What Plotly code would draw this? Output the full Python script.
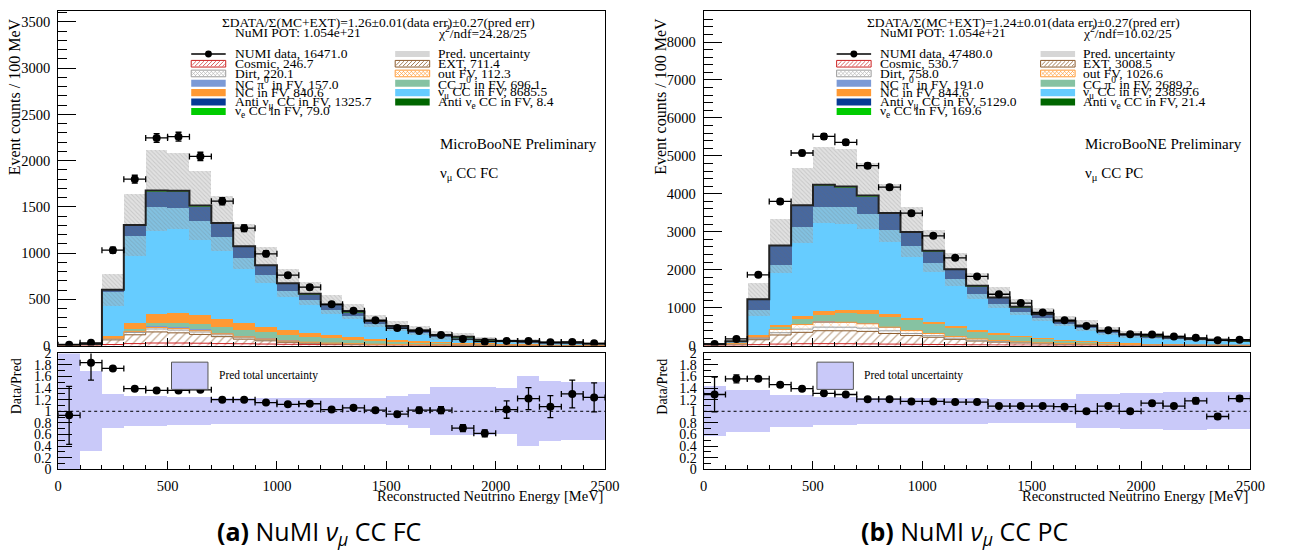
import numpy as np
import plotly.graph_objects as go

W, H = 1298, 556

# ---------------- binning (MeV) ----------------
edges = np.arange(0, 2501, 100)
centers = (edges[:-1] + edges[1:]) / 2
widths = np.diff(edges)

# ---------------- component definitions ----------------
comp_keys = ["cosmic", "ext", "dirt", "outfv", "ncpi0", "ccpi0", "nc",
             "numu", "antinumu", "nue", "antinue"]
comp_labels = ["Cosmic", "EXT", "Dirt", "out FV", "NC π<sup>0</sup> in FV",
               "CC π<sup>0</sup> in FV", "NC in FV", "ν<sub>μ</sub> CC in FV",
               "Anti ν<sub>μ</sub> CC in FV", "ν<sub>e</sub> CC in FV",
               "Anti ν<sub>e</sub> CC in FV"]

# ---------------- (a) nu_mu CC FC ----------------
fc_cosmic = [2, 3, 12, 22, 28, 28, 26, 22, 20, 17, 14, 11, 9, 7, 5, 4, 3, 3, 2, 2, 1, 1, 1, 1, 1]
fc_ext = [3, 6, 50, 95, 120, 110, 95, 75, 50, 35, 22, 15, 10, 8, 6, 5, 4, 3, 3, 2, 2, 1, 1, 1, 1]
fc_dirt = [1, 2, 12, 25, 32, 30, 26, 20, 16, 12, 9, 7, 5, 4, 3, 3, 2, 2, 1, 1, 1, 1, 1, 0, 0]
fc_outfv = [1, 1, 6, 12, 16, 16, 14, 11, 9, 7, 5, 4, 3, 2, 1, 1, 1, 1, 0, 0, 0, 0, 0, 0, 0]
fc_ncpi0 = [0, 0, 4, 10, 15, 16, 16, 15, 13, 11, 10, 8, 7, 6, 5, 4, 3, 3, 2, 2, 2, 1, 1, 1, 1]
fc_ccpi0 = [0, 1, 5, 18, 35, 45, 55, 62, 65, 63, 58, 52, 45, 38, 32, 26, 22, 18, 15, 12, 10, 8, 6, 5, 4]
fc_nc = [0, 1, 20, 60, 100, 105, 95, 85, 70, 58, 48, 40, 32, 26, 20, 16, 13, 10, 8, 6, 5, 4, 3, 3, 2]
fc_numu = [2, 4, 479, 950, 1152, 1139, 1027, 889, 705, 561, 422, 354, 280, 235, 163, 129, 99, 60, 54, 30, 22, 22, 16, 18, 10]
fc_antinumu = [0, 0, 15, 110, 175, 180, 155, 140, 120, 100, 80, 65, 50, 38, 28, 20, 15, 10, 8, 6, 4, 3, 2, 2, 1]
fc_nue = [0, 0, 1, 3, 5, 6, 6, 6, 6, 5, 5, 5, 4, 4, 4, 3, 3, 3, 2, 2, 2, 2, 2, 1, 1]
fc_antinue = [0, 0, 0, 0.2, 0.4, 0.5, 0.6, 0.6, 0.6, 0.6, 0.5, 0.5, 0.5, 0.5, 0.4, 0.4, 0.4, 0.3, 0.3, 0.3, 0.3, 0.2, 0.2, 0.1, 0.1]
fc_data = [8, 30, 1032, 1800, 2246, 2260, 2046, 1562, 1270, 993, 762, 632, 446, 376, 274, 190, 158, 116, 71, 43, 50, 50, 35, 40, 25]
fc_rel_unc = [1.2, 0.69, 0.29, 0.26, 0.26, 0.245, 0.245, 0.225, 0.225, 0.225, 0.225, 0.225, 0.225, 0.225, 0.23, 0.25, 0.3, 0.41, 0.41, 0.41, 0.4, 0.6, 0.52, 0.5, 0.5]
fc_ratio = [0.93, 1.84, 1.74, 1.39, 1.36, 1.36, 1.37, 1.2, 1.2, 1.15, 1.12, 1.13, 1.03, 1.06, 1.02, 0.95, 1.02, 1.02, 0.71, 0.62, 1.03, 1.22, 1.08, 1.3, 1.24]
fc_ratio_err = [0.5, 0.3, 0.03, 0.02, 0.02, 0.02, 0.02, 0.02, 0.02, 0.02, 0.02, 0.02, 0.03, 0.03, 0.03, 0.04, 0.05, 0.06, 0.06, 0.06, 0.15, 0.19, 0.19, 0.24, 0.25]
fc_legend_totals = [246.7, 711.4, 220.1, 112.3, 157.0, 696.1, 840.6, 8685.5, 1325.7, 79.0, 8.4]
fc_data_total = 16471.0
fc_summary = "ΣDATA/Σ(MC+EXT)=1.26±0.01(data err)±0.27(pred err)"
fc_chi2 = "χ<sup>2</sup>/ndf=24.28/25"
fc_tag = "ν<sub>μ</sub> CC FC"
fc_caption = "<b>(a)</b> NuMI <i>ν<sub>μ</sub></i> CC FC"

# ---------------- (b) nu_mu CC PC ----------------
pc_cosmic = [8, 10, 25, 40, 50, 52, 50, 45, 40, 35, 30, 25, 20, 17, 14, 11, 9, 8, 7, 6, 5, 5, 4, 4, 3]
pc_ext = [15, 30, 130, 240, 300, 340, 340, 330, 280, 230, 190, 140, 100, 75, 55, 40, 30, 22, 15, 12, 10, 8, 6, 4, 3]
pc_dirt = [2, 6, 30, 60, 85, 95, 95, 85, 70, 55, 42, 32, 24, 18, 14, 10, 8, 6, 5, 4, 3, 2, 2, 1, 1]
pc_outfv = [2, 6, 40, 85, 120, 135, 130, 115, 95, 75, 58, 44, 33, 25, 19, 14, 10, 8, 6, 4, 3, 3, 2, 1, 1]
pc_ncpi0 = [0, 1, 5, 12, 18, 20, 20, 19, 17, 15, 13, 11, 9, 7, 6, 5, 4, 3, 3, 2, 2, 2, 1, 1, 1]
pc_ccpi0 = [1, 4, 25, 70, 130, 180, 220, 250, 260, 255, 240, 215, 185, 155, 125, 100, 80, 60, 45, 35, 25, 18, 12, 8, 6]
pc_nc = [1, 3, 20, 45, 70, 85, 90, 85, 80, 70, 60, 50, 40, 32, 25, 20, 16, 13, 10, 8, 6, 5, 4, 3, 2]
pc_numu = [5, 46, 656, 1588, 2364, 2747, 2706, 2531, 2206, 1888, 1551, 1235, 949, 770, 635, 528, 405, 350, 247, 185, 173, 149, 123, 118, 98]
pc_antinumu = [0, 9, 290, 490, 550, 570, 530, 480, 430, 360, 305, 250, 205, 160, 125, 95, 72, 54, 40, 31, 24, 18, 13, 9, 7]
pc_nue = [0, 0, 3, 6, 9, 11, 12, 12, 12, 11, 10, 9, 9, 8, 8, 7, 7, 6, 6, 5, 5, 4, 4, 3, 3]
pc_antinue = [0, 0, 0.2, 0.5, 0.8, 1, 1.2, 1.3, 1.3, 1.3, 1.3, 1.2, 1.2, 1.1, 1.1, 1, 1, 0.9, 0.9, 0.8, 0.8, 0.7, 0.7, 0.6, 0.5]
pc_data = [44, 175, 1866, 3800, 5075, 5511, 5357, 4741, 4176, 3491, 2893, 2312, 1823, 1353, 1122, 873, 668, 514, 403, 300, 293, 241, 205, 140, 154]
pc_rel_unc = [0.43, 0.36, 0.36, 0.27, 0.27, 0.235, 0.235, 0.22, 0.22, 0.22, 0.22, 0.22, 0.22, 0.21, 0.21, 0.21, 0.21, 0.29, 0.29, 0.31, 0.31, 0.33, 0.33, 0.32, 0.32]
pc_ratio = [1.29, 1.56, 1.56, 1.46, 1.39, 1.31, 1.29, 1.21, 1.21, 1.17, 1.17, 1.16, 1.16, 1.09, 1.09, 1.09, 1.08, 1.0, 1.09, 1.0, 1.14, 1.09, 1.18, 0.91, 1.22]
pc_ratio_err = [0.3, 0.07, 0.03, 0.02, 0.02, 0.02, 0.02, 0.02, 0.02, 0.02, 0.02, 0.02, 0.02, 0.02, 0.02, 0.02, 0.03, 0.03, 0.03, 0.03, 0.04, 0.04, 0.05, 0.04, 0.05]
pc_legend_totals = [530.7, 3008.5, 758.0, 1026.6, 191.0, 2689.2, 844.6, 23859.6, 5129.0, 169.6, 21.4]
pc_data_total = 47480.0
pc_summary = "ΣDATA/Σ(MC+EXT)=1.24±0.01(data err)±0.27(pred err)"
pc_chi2 = "χ<sup>2</sup>/ndf=10.02/25"
pc_tag = "ν<sub>μ</sub> CC PC"
pc_caption = "<b>(b)</b> NuMI <i>ν<sub>μ</sub></i> CC PC"

pot_text = "NuMI POT: 1.054e+21"

# ---------------- styles ----------------
STYLE = {
    "cosmic": dict(fill="white", pat="/", fg="#d03a3a", line="#cc2222"),
    "ext": dict(fill="white", pat="/", fg="#8b5a2b", line="#8b5a2b"),
    "dirt": dict(fill="white", pat="x", fg="#bdbdbd", line="#9a9a9a"),
    "outfv": dict(fill="white", pat="x", fg="#ffa850", line="#ff9933"),
    "ncpi0": dict(fill="#7c9ad6"),
    "ccpi0": dict(fill="#86c2a2"),
    "nc": dict(fill="#ff9933"),
    "numu": dict(fill="#66ccff"),
    "antinumu": dict(fill="#063b95"),
    "nue": dict(fill="#00cc00"),
    "antinue": dict(fill="#006600"),
}
# legend slot (column, row)
LEG_POS = {"cosmic": (0, 1), "ext": (1, 1), "dirt": (0, 2), "outfv": (1, 2),
           "ncpi0": (0, 3), "ccpi0": (1, 3), "nc": (0, 4), "numu": (1, 4),
           "antinumu": (0, 5), "nue": (0, 6), "antinue": (1, 5)}
ROW_Y = [48.3, 58.3, 68.3, 78.3, 88.0, 97.7, 107.4]
COL_SW = [(190, 225), (397, 432)]
COL_TX = [232, 438]

SERIF = "Liberation Serif"
BAND_RATIO = "#c9c9f9"


def PX(x):
    return x / W


def PY(y):
    return 1 - y / H


shapes = []
annotations = []


def add_rect(x0, y0, x1, y1, fill, line=None, lw=1):
    shapes.append(dict(type="rect", xref="paper", yref="paper",
                       x0=PX(x0), x1=PX(x1), y0=PY(y1), y1=PY(y0),
                       fillcolor=fill,
                       line=dict(color=line or fill, width=lw if line else 0),
                       layer="above"))


def add_hatch(x0, y0, x1, y1, color, cross=False, step=4.0):
    h = y1 - y0
    segs = []
    t = x0 - h
    while t < x1:
        ax, ay, bx, by = t, y1, t + h, y0
        if ax < x0:
            ay = y1 - (x0 - ax)
            ax = x0
        if bx > x1:
            by = y0 + (bx - x1)
            bx = x1
        segs.append(f"M{PX(ax):.5f},{PY(ay):.5f} L{PX(bx):.5f},{PY(by):.5f}")
        if cross:
            segs.append(f"M{PX(ax):.5f},{PY(y0 + (y1 - ay)):.5f} L{PX(bx):.5f},{PY(y0 + (y1 - by)):.5f}")
        t += step
    shapes.append(dict(type="path", xref="paper", yref="paper", path=" ".join(segs),
                       line=dict(color=color, width=0.8), layer="above"))


def add_text(x, y, text, size=13.5, xanchor="left", family=SERIF, angle=0, color="black"):
    annotations.append(dict(x=PX(x), y=PY(y), xref="paper", yref="paper", text=text,
                            showarrow=False, xanchor=xanchor, yanchor="middle",
                            textangle=angle, font=dict(family=family, size=size, color=color)))


fig = go.Figure()


def add_panel(comps, data, rel, ratio, ratio_err, leg_totals, data_total,
              summary, chi2, tag, caption, axes, dx):
    xm, ym, xr, yr = axes
    base = np.zeros(len(centers))
    for k in comp_keys:
        vals = np.asarray(comps[k], dtype=float)
        st = STYLE[k]
        marker = dict(color=st["fill"], line=dict(width=0))
        if "pat" in st:
            marker["pattern"] = dict(shape=st["pat"], fgcolor=st["fg"], size=6, solidity=0.22)
        fig.add_trace(go.Bar(x=centers, y=vals, base=base, width=widths, marker=marker,
                             xaxis=xm, yaxis=ym, showlegend=False, hoverinfo="skip"))
        if "line" in st:
            top = base + vals
            fig.add_trace(go.Scatter(x=edges, y=np.append(top, top[-1]), mode="lines",
                                     line=dict(color=st["line"], width=1, shape="hv"),
                                     xaxis=xm, yaxis=ym, showlegend=False, hoverinfo="skip"))
        base = base + vals
    total = base
    rel = np.asarray(rel, dtype=float)
    # prediction uncertainty band
    lo = total * (1 - rel)
    fig.add_trace(go.Bar(x=centers, y=total * 2 * rel, base=lo, width=widths,
                         marker=dict(color="rgba(175,175,175,0.38)", line=dict(width=0),
                                     pattern=dict(shape="\\", fgcolor="rgba(100,100,100,0.45)",
                                                  size=3, solidity=0.3)),
                         xaxis=xm, yaxis=ym, showlegend=False, hoverinfo="skip"))
    # total prediction outline
    fig.add_trace(go.Scatter(x=edges, y=np.append(total, total[-1]), mode="lines",
                             line=dict(color="#222222", width=2, shape="hv"),
                             xaxis=xm, yaxis=ym, showlegend=False, hoverinfo="skip"))
    # data
    data = np.asarray(data, dtype=float)
    fig.add_trace(go.Scatter(x=centers, y=data, mode="markers",
                             marker=dict(color="black", size=8),
                             error_x=dict(type="data", array=widths / 2, width=3, thickness=1.3, color="black"),
                             error_y=dict(type="data", array=np.sqrt(data), width=3, thickness=1.3, color="black"),
                             xaxis=xm, yaxis=ym, showlegend=False, hoverinfo="skip"))
    # ratio band
    fig.add_trace(go.Bar(x=centers, y=2 * rel, base=1 - rel, width=widths,
                         marker=dict(color=BAND_RATIO, line=dict(width=0)),
                         xaxis=xr, yaxis=yr, showlegend=False, hoverinfo="skip"))
    fig.add_trace(go.Scatter(x=[edges[0], edges[-1]], y=[1, 1], mode="lines",
                             line=dict(color="black", width=1, dash="dot"),
                             xaxis=xr, yaxis=yr, showlegend=False, hoverinfo="skip"))
    fig.add_trace(go.Scatter(x=centers, y=ratio, mode="markers",
                             marker=dict(color="black", size=8),
                             error_x=dict(type="data", array=widths / 2, width=3, thickness=1.3, color="black"),
                             error_y=dict(type="data", array=ratio_err, width=3, thickness=1.3, color="black"),
                             xaxis=xr, yaxis=yr, showlegend=False, hoverinfo="skip"))

    # ---- header texts ----
    add_text(380 + dx, 16, summary, xanchor="center")
    add_text(232 + dx, 26, pot_text)
    add_text(438 + dx, 26, chi2)
    # ---- legend ----
    sx0, sx1 = COL_SW[0]
    yy = ROW_Y[0]
    shapes.append(dict(type="line", xref="paper", yref="paper", x0=PX(sx0 + dx), x1=PX(sx1 + dx),
                       y0=PY(yy), y1=PY(yy), line=dict(color="black", width=1.3), layer="above"))
    shapes.append(dict(type="circle", xref="paper", yref="paper",
                       x0=PX((sx0 + sx1) / 2 - 3.5 + dx), x1=PX((sx0 + sx1) / 2 + 3.5 + dx),
                       y0=PY(yy + 3.5), y1=PY(yy - 3.5), fillcolor="black",
                       line=dict(color="black", width=0), layer="above"))
    add_text(COL_TX[0] + dx, yy, f"NUMI data, {data_total:.1f}")
    # prediction uncertainty swatch
    px0, px1 = COL_SW[1]
    add_rect(px0 + dx, yy - 3.2, px1 + dx, yy + 3.2, "#d6d6d6")
    add_text(COL_TX[1] + dx, yy, "Pred. uncertainty")
    for k, lab, tot in zip(comp_keys, comp_labels, leg_totals):
        c, r = LEG_POS[k]
        x0, x1 = COL_SW[c]
        y = ROW_Y[r]
        st = STYLE[k]
        if "pat" in st:
            add_rect(x0 + dx, y - 3.4, x1 + dx, y + 3.4, "white", st["line"], 1)
            add_hatch(x0 + dx + 1, y - 2.6, x1 + dx - 1, y + 2.6, st["fg"], cross=(st["pat"] == "x"))
        else:
            add_rect(x0 + dx, y - 3.6, x1 + dx, y + 3.6, st["fill"])
        add_text(COL_TX[c] + dx, y, f"{lab}, {tot:.1f}")
    add_text(440 + dx, 141, "MicroBooNE Preliminary", size=15)
    add_text(440 + dx, 172, tag, size=15)
    # ratio legend
    add_rect(170 + dx, 365, 207 + dx, 393, BAND_RATIO, "#555555", 1)
    add_text(216 + dx, 379, "Pred total uncertainty", size=11.5)
    # axis titles
    add_text(11 + dx, 92, "Event counts / 100 MeV", size=16, xanchor="center", angle=-90)
    add_text(13 + dx, 390, "Data/Pred", size=14, xanchor="center", angle=-90)
    annotations.append(dict(x=PX(610 + dx), y=PY(503), xref="paper", yref="paper",
                            text="Reconstructed Neutrino Energy [MeV]", showarrow=False,
                            xanchor="right", yanchor="middle",
                            font=dict(family=SERIF, size=14.5, color="black")))
    # caption
    add_text(320 + dx, 540, caption, size=25, xanchor="center", family="Open Sans")


fc_comps = dict(cosmic=fc_cosmic, ext=fc_ext, dirt=fc_dirt, outfv=fc_outfv, ncpi0=fc_ncpi0,
                ccpi0=fc_ccpi0, nc=fc_nc, numu=fc_numu, antinumu=fc_antinumu, nue=fc_nue,
                antinue=fc_antinue)
pc_comps = dict(cosmic=pc_cosmic, ext=pc_ext, dirt=pc_dirt, outfv=pc_outfv, ncpi0=pc_ncpi0,
                ccpi0=pc_ccpi0, nc=pc_nc, numu=pc_numu, antinumu=pc_antinumu, nue=pc_nue,
                antinue=pc_antinue)

add_panel(fc_comps, fc_data, fc_rel_unc, fc_ratio, fc_ratio_err, fc_legend_totals,
          fc_data_total, fc_summary, fc_chi2, fc_tag, fc_caption, ("x", "y", "x2", "y2"), 0)
add_panel(pc_comps, pc_data, pc_rel_unc, pc_ratio, pc_ratio_err, pc_legend_totals,
          pc_data_total, pc_summary, pc_chi2, pc_tag, pc_caption, ("x3", "y3", "x4", "y4"), 655)

# ---------------- axes ----------------
MAIN_Y = [PY(348), PY(4)]
RATIO_Y = [PY(475), PY(356)]
LEFT_X = [PX(55), PX(610)]
RIGHT_X = [PX(710), PX(1265)]
tickfont = dict(family=SERIF, size=14.5, color="black")
common = dict(showline=True, linecolor="black", linewidth=1, mirror=True, showgrid=False,
              zeroline=False, ticks="inside", tickcolor="black", tickfont=tickfont)


def xaxis(dom, anchor, labels):
    return dict(domain=dom, anchor=anchor, range=[0, 2500], dtick=500, tick0=0, ticklen=8,
                ticklabelstandoff=3,
                minor=dict(ticks="inside", ticklen=4, dtick=100, tickcolor="black", showgrid=False),
                showticklabels=labels, **common)


def ymain(anchor, top, major, minor):
    return dict(domain=MAIN_Y, anchor=anchor, range=[0, top], dtick=major, tick0=0, ticklen=18,
                tickformat="d", ticklabelstandoff=4,
                minor=dict(ticks="inside", ticklen=9, dtick=minor, tickcolor="black", showgrid=False),
                **common)


ratio_ticks = [0, 0.2, 0.4, 0.6, 0.8, 1, 1.2, 1.4, 1.6, 1.8, 2]


def yratio(anchor):
    return dict(domain=RATIO_Y, anchor=anchor, range=[0, 2], tickvals=ratio_ticks,
                ticktext=[f"{v:g}" for v in ratio_ticks], ticklen=14, ticklabelstandoff=3,
                minor=dict(ticks="inside", ticklen=7, dtick=0.1, tickcolor="black", showgrid=False),
                **{**common, "tickfont": dict(family=SERIF, size=14, color="black")})


fig.update_layout(
    width=W, height=H, autosize=False,
    margin=dict(l=0, r=0, t=0, b=0),
    paper_bgcolor="white", plot_bgcolor="white",
    barmode="overlay", bargap=0,
    showlegend=False,
    xaxis=xaxis(LEFT_X, "y", False),
    yaxis=ymain("x", 3620, 500, 100),
    xaxis2=xaxis(LEFT_X, "y2", True),
    yaxis2=yratio("x2"),
    xaxis3=xaxis(RIGHT_X, "y3", False),
    yaxis3=ymain("x3", 8820, 1000, 200),
    xaxis4=xaxis(RIGHT_X, "y4", True),
    yaxis4=yratio("x4"),
    shapes=shapes,
    annotations=annotations,
)

fig.write_html("out.html", config={"displayModeBar": False},
               post_script="document.body.style.margin='0';")
